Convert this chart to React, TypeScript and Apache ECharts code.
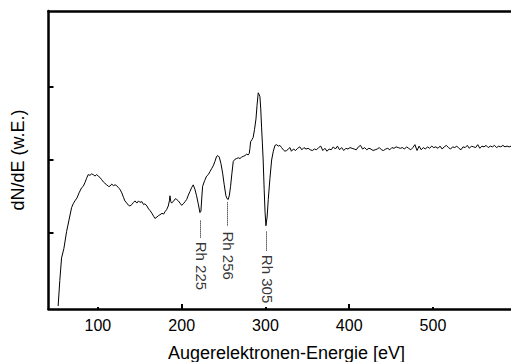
import React, { useEffect, useRef } from "react";
import * as echarts from "echarts";

const energy: number[] = [
  52.5, 54.5, 56.6, 59.4, 62.6, 65.5, 68.6, 70.5, 72.5, 75, 77.5, 80.5, 82.5, 84.5, 86.5, 88.4, 90.5, 92.5, 94.4, 96.5,
  98.5, 100.4, 102.5, 104.5, 106.5, 108.4, 110.5, 112.5, 114.3, 116.5, 118.5, 120.5, 122.3, 124.5, 126.3, 128.5, 130.5,
  132.2, 134.5, 136.5, 138.2, 140.5, 142.5, 144.2, 146.5, 148.5, 150.1, 152.5, 154.5, 156.1, 158.5, 160.5, 162.1, 164.5,
  166.5, 168.1, 170.5, 172.5, 174.1, 176.5, 178.5, 180.0, 182.0, 184.0, 185.5, 186.0, 187.0, 188.0, 190.5, 192.5, 194.0,
  196.0, 198.0, 200.0, 202.0, 204.0, 206.0, 208.0, 209.9, 211.8, 213.8, 215.8, 217.8, 219.8, 221.8, 223.0, 224.0, 225.0,
  227.5, 229.8, 231.8, 233.7, 235.7, 237.7, 239.7, 241.7, 243.3, 244.9, 246.9, 248.9, 250.8, 252.8, 254.2, 255.6, 257.0,
  258.4, 260.0, 261.6, 263.6, 265.6, 267.6, 269.6, 271.6, 273.6, 275.6, 277.5, 279.5, 280.7, 281.5, 282.3, 284.0, 285.4,
  287.0, 288.7, 290.0, 291.4, 292.4, 293.4, 294.4, 295.4, 296.4, 297.3, 298.5, 299.5, 300.6, 302.0, 303.4, 305.4, 307.4,
  309.4, 311.4, 313.4, 315.4, 317.3, 319.3, 321.3, 323.3, 325.3, 327.3, 329.3,
  331, 333.5, 336, 338.5, 341, 343.5, 346, 348.5, 351, 353.5, 356, 358.5, 361, 363.5, 366, 368.5, 371, 373.5, 376, 378.5,
  381, 383.5, 386, 388.5, 391, 393.5, 396, 398.5, 401, 403.5, 406, 408.5, 411, 413.5, 416, 418.5, 421, 423.5, 426, 428.5,
  431, 433.5, 436, 438.5, 441, 443.5, 446, 448.5, 451, 453.5, 456, 458.5, 461, 463.5, 466, 468.5, 471, 473.5, 476, 478.5,
  481, 483.5, 486, 488.5, 491, 493.5, 496, 498.5, 501, 503.5, 506, 508.5, 511, 513.5, 516, 518.5, 521, 523.5, 526, 528.5,
  531, 533.5, 536, 538.5, 541, 543.5, 546, 548.5, 551, 553.5, 556, 558.5, 561, 563.5, 566, 568.5, 571, 573.5, 576, 578.5,
  581, 583.5, 586, 588.5, 591, 593.5,
];

const signal: number[] = [
  0.0, 0.35, 0.66, 0.79, 1.02, 1.18, 1.35, 1.4, 1.44, 1.48, 1.55, 1.62, 1.64, 1.69, 1.75, 1.8, 1.79, 1.81, 1.8, 1.78,
  1.8, 1.78, 1.76, 1.73, 1.7, 1.68, 1.66, 1.64, 1.64, 1.67, 1.65, 1.66, 1.65, 1.62, 1.6, 1.55, 1.49,
  1.44, 1.41, 1.38, 1.37, 1.39, 1.42, 1.44, 1.41, 1.44, 1.42, 1.43, 1.39, 1.4, 1.37, 1.33, 1.31, 1.27,
  1.23, 1.2, 1.22, 1.24, 1.25, 1.27, 1.26, 1.29, 1.32, 1.37, 1.45, 1.51, 1.43, 1.41, 1.44, 1.47, 1.46,
  1.44, 1.41, 1.38, 1.4, 1.43, 1.46, 1.52, 1.57, 1.62, 1.66, 1.6, 1.51, 1.4, 1.28, 1.3, 1.48, 1.64,
  1.72, 1.78, 1.8, 1.84, 1.88, 1.92, 1.98, 2.05, 2.06, 2.04, 1.95, 1.82, 1.66, 1.51, 1.47, 1.46, 1.52,
  1.64, 1.82, 1.98, 2.01, 2.02, 2.03, 2.02, 2.04, 2.05, 2.06, 2.08, 2.07, 2.09, 2.16, 2.25, 2.28, 2.31,
  2.42, 2.56, 2.75, 2.92, 2.9, 2.87, 2.7, 2.45, 2.22, 2.0, 1.6, 1.3, 1.1, 1.22, 1.46, 1.75, 2.0,
  2.12, 2.2, 2.21, 2.19, 2.2, 2.17, 2.14, 2.12, 2.13, 2.15, 2.17,
  2.12, 2.15, 2.13, 2.16, 2.18, 2.14, 2.17, 2.15, 2.16, 2.14, 2.13, 2.15, 2.14, 2.17, 2.19, 2.13, 2.16, 2.12, 2.15, 2.14,
  2.18, 2.15, 2.19, 2.14, 2.17, 2.13, 2.16, 2.15, 2.17, 2.16, 2.15, 2.14, 2.18, 2.2, 2.15, 2.17, 2.14, 2.16, 2.15, 2.13,
  2.14, 2.15, 2.17, 2.14, 2.13, 2.15, 2.16, 2.14, 2.17, 2.16, 2.18, 2.17, 2.16, 2.17, 2.15, 2.18, 2.16, 2.14, 2.17, 2.21,
  2.13, 2.19, 2.14, 2.17, 2.15, 2.18, 2.16, 2.19, 2.17, 2.18, 2.16, 2.19, 2.15, 2.18, 2.2, 2.17, 2.15, 2.18, 2.17, 2.19,
  2.16, 2.14, 2.18, 2.17, 2.2, 2.16, 2.19, 2.18, 2.17, 2.21, 2.16, 2.19, 2.18, 2.2, 2.17, 2.19, 2.18, 2.2, 2.17, 2.19,
  2.18, 2.2, 2.18, 2.19, 2.18, 2.19,
];

const xLabelTicks: number[] = [100, 200, 300, 400, 500];
const xMajorTicks: number[] = [200, 400];
const xMinorTicks: number[] = [100, 300, 500];
const yTicks: number[] = [1, 2, 3];

const annoLabels: string[] = ["Rh 225", "Rh 256", "Rh 305"];
const annoLineE: number[] = [222.6, 254.9, 301.4];
const annoLineTop: number[] = [1.17, 1.42, 1.02];
const annoLineBottom: number[] = [0.93, 1.09, 0.75];
const annoTextE: number[] = [223.8, 255.6, 303.0];
const annoTextV: number[] = [0.55, 0.69, 0.37];

const xTitle = "Augerelektronen-Energie [eV]";
const yTitle = "dN/dE (w.E.)";

const FONT = "'Liberation Sans', Arial, sans-serif";

export default function App() {
  const ref = useRef<HTMLDivElement>(null);
  useEffect(() => {
    if (!ref.current) return;
    const chart = echarts.init(ref.current, undefined, { renderer: "svg" });
    const lineData = energy.map((e, i) => [e, signal[i]]);
    const axisBase = {
      type: "value" as const,
      min: 41,
      max: 593.2,
      splitLine: { show: false },
    };
    chart.setOption({
      animation: false,
      backgroundColor: "#ffffff",
      grid: { left: 48.5, right: 0, top: 11, bottom: 53, containLabel: false },
      xAxis: [
        {
          ...axisBase,
          position: "bottom",
          axisLine: { show: true, onZero: false, lineStyle: { color: "#000", width: 2.5 } },
          axisTick: { show: true, inside: true, length: 5, customValues: xMajorTicks, lineStyle: { color: "#000", width: 2 } },
          axisLabel: { show: true, customValues: xLabelTicks, margin: 8, color: "#000", fontSize: 16, fontFamily: FONT },
        },
        {
          ...axisBase,
          position: "bottom",
          axisLine: { show: false, onZero: false },
          axisTick: { show: true, inside: true, length: 2, customValues: xMinorTicks, lineStyle: { color: "#000", width: 2 } },
          axisLabel: { show: false },
        },
        {
          ...axisBase,
          position: "top",
          axisLine: { show: true, onZero: false, lineStyle: { color: "#000", width: 2.5 } },
          axisTick: { show: false },
          axisLabel: { show: false },
        },
      ],
      yAxis: {
        type: "value",
        min: -0.04,
        max: 4.04,
        splitLine: { show: false },
        axisLine: { show: true, onZero: false, lineStyle: { color: "#000", width: 2.5 } },
        axisTick: { show: true, inside: true, length: 5, customValues: yTicks, lineStyle: { color: "#000", width: 2 } },
        axisLabel: { show: false },
      },
      graphic: [
        {
          type: "text",
          x: 286.5,
          y: 352.5,
          style: { text: xTitle, fill: "#000", font: `18px ${FONT}`, align: "center", verticalAlign: "middle" },
        },
        {
          type: "text",
          x: 17.5,
          y: 160,
          rotation: Math.PI / 2,
          style: { text: yTitle, fill: "#000", font: `18px ${FONT}`, align: "center", verticalAlign: "middle" },
        },
      ],
      series: [
        {
          type: "line",
          xAxisIndex: 0,
          data: lineData,
          showSymbol: false,
          symbol: "none",
          lineStyle: { color: "#000", width: 1 },
          markLine: {
            silent: true,
            symbol: ["none", "none"],
            label: { show: false },
            lineStyle: { color: "#000", width: 1, type: [1, 1] },
            data: annoLineE.map((e, i) => [
              { coord: [e, annoLineTop[i]] },
              { coord: [e, annoLineBottom[i]] },
            ]),
          },
        },
        {
          type: "scatter",
          xAxisIndex: 0,
          symbolSize: 0,
          silent: true,
          data: annoTextE.map((e, i) => [e, annoTextV[i], annoLabels[i]]),
          label: {
            show: true,
            position: "inside",
            rotate: -90,
            formatter: (p: any) => p.value[2],
            color: "#000",
            fontSize: 15,
            fontFamily: FONT,
          },
        },
      ],
    });
    return () => chart.dispose();
  }, []);
  return <div ref={ref} style={{ width: 511, height: 362, position: "absolute", left: 0, top: 0 }} />;
}
